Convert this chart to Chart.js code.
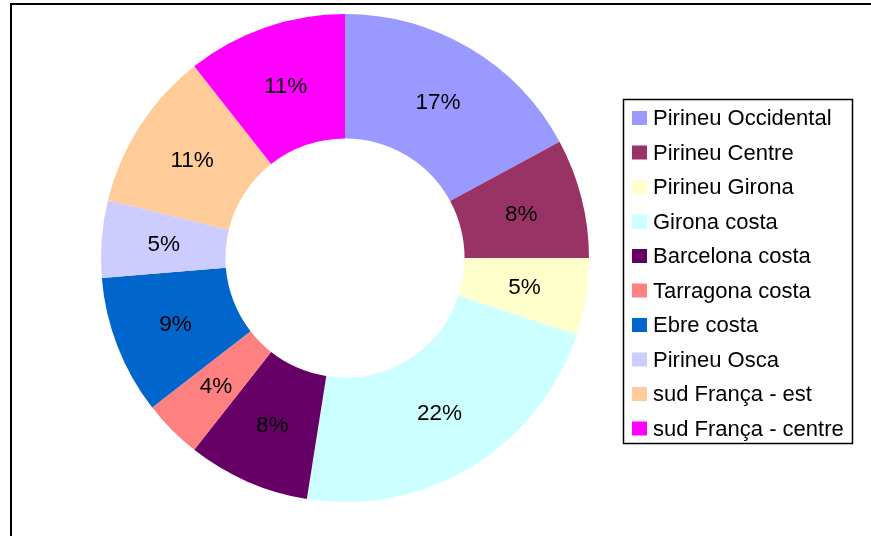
<!DOCTYPE html>
<html>
<head>
<meta charset="utf-8">
<script src="https://cdn.jsdelivr.net/npm/chart.js@4"></script>
<style>
  body { margin: 0; background: #fff; }
  #wrap { width: 871px; height: 536px; position: relative; }
</style>
</head>
<body>
<div id="wrap"><canvas id="donut" width="871" height="536"></canvas></div>
<script>
// Datos del gráfico
const zones = ['Pirineu Occidental', 'Pirineu Centre', 'Pirineu Girona', 'Girona costa',
  'Barcelona costa', 'Tarragona costa', 'Ebre costa', 'Pirineu Osca',
  'sud França - est', 'sud França - centre'];
const shares = [17.1, 7.9, 5.1, 22.4, 8.1, 3.9, 9.2, 5.1, 10.6, 10.6];
const colors = ['#9999FF', '#993366', '#FFFFCC', '#CCFFFF', '#660066',
  '#FF8080', '#0066CC', '#CCCCFF', '#FFCC99', '#FF00FF'];

const FONT = '"Liberation Sans", Arial, sans-serif';

// Marco exterior del gráfico
const framePlugin = {
  id: 'frame',
  beforeDraw(chart) {
    const ctx = chart.ctx;
    ctx.save();
    ctx.fillStyle = '#fff';
    ctx.fillRect(0, 0, chart.width, chart.height);
    ctx.strokeStyle = '#000';
    ctx.lineWidth = 2;
    ctx.beginPath();
    ctx.moveTo(11, chart.height);
    ctx.lineTo(11, 4);
    ctx.lineTo(chart.width, 4);
    ctx.stroke();
    ctx.restore();
  }
};

// Porcentajes sobre cada sector
const percentPlugin = {
  id: 'percent',
  afterDatasetsDraw(chart) {
    const ctx = chart.ctx;
    const meta = chart.getDatasetMeta(0);
    const total = shares.reduce((a, b) => a + b, 0);
    ctx.save();
    ctx.font = '22.5px ' + FONT;
    ctx.fillStyle = '#000';
    ctx.textAlign = 'center';
    ctx.textBaseline = 'middle';
    meta.data.forEach((arc, i) => {
      const p = arc.tooltipPosition();
      ctx.fillText(Math.round(shares[i] / total * 100) + '%', p.x, p.y + 1);
    });
    ctx.restore();
  }
};

// Leyenda dibujada a mano (caja a la derecha)
const legendPlugin = {
  id: 'legendBox',
  afterDraw(chart) {
    const ctx = chart.ctx;
    ctx.save();
    ctx.strokeStyle = '#000';
    ctx.lineWidth = 1.5;
    ctx.strokeRect(623.5, 99.5, 229, 344);
    ctx.font = '22px ' + FONT;
    ctx.textBaseline = 'middle';
    zones.forEach((name, i) => {
      const y = 118 + i * 34.5;
      ctx.fillStyle = colors[i];
      ctx.fillRect(632, y - 7, 15, 14);
      ctx.fillStyle = '#000';
      ctx.fillText(name, 653, y + 1);
    });
    ctx.restore();
  }
};

new Chart(document.getElementById('donut').getContext('2d'), {
  type: 'doughnut',
  data: {
    labels: zones,
    datasets: [{
      data: shares,
      backgroundColor: colors,
      borderWidth: 0
    }]
  },
  options: {
    responsive: false,
    animation: false,
    cutout: '49%',
    layout: { padding: { left: 101, right: 282, top: 14, bottom: 34 } },
    plugins: {
      legend: { display: false },
      tooltip: { enabled: false }
    }
  },
  plugins: [framePlugin, percentPlugin, legendPlugin]
});
</script>
</body>
</html>
